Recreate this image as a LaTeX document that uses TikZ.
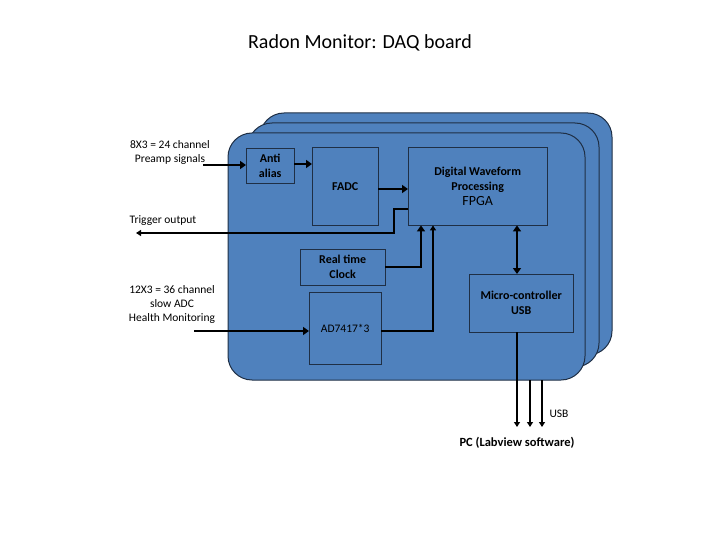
\documentclass[tikz,border=0pt]{standalone}
\usepackage{fontspec}
\setmainfont{Carlito}
\usetikzlibrary{arrows.meta}
\definecolor{board}{HTML}{4F81BD}
\definecolor{edge}{HTML}{1F2F45}
\tikzstyle{board style}=[fill=board, draw=edge, line width=1pt, rounded corners=24pt]
\tikzstyle{block}=[draw=edge, fill=board, anchor=north west, align=center, font=\fontsize{12}{15}\selectfont\bfseries]
\tikzstyle{label}=[align=center, font=\fontsize{11.5}{14}\selectfont]
\tikzstyle{bus}=[draw=black, line width=2.6pt, -{Triangle[length=6pt,width=8pt]}]
\tikzstyle{wire}=[draw=black, line width=1.3pt, -{Triangle[length=5pt,width=6pt]}]

\begin{document}
\begin{tikzpicture}[x=1pt, y=-1pt]
	\useasboundingbox (0,0) rectangle (720,540);
	% boards
	\draw [style=board style] (260,113) rectangle (612,355);
	\draw [style=board style] (248,123) rectangle (599,367);
	\draw [style=board style] (228,133) rectangle (585,380);
	% blocks
	\node [style=block, minimum width=48pt, minimum height=35pt] (alias) at (246,148) {Anti\\alias};
	\node [style=block, minimum width=66pt, minimum height=78pt] (fadc) at (312,147) {FADC};
	\node [style=block, minimum width=139pt, minimum height=78pt, inner sep=1pt] (fpga) at (408,147) {Digital Waveform\\Processing\\\mdseries\fontsize{14}{16}\selectfont FPGA};
	\node [style=block, minimum width=85pt, minimum height=36pt, inner sep=1pt] (clock) at (300,249) {Real time\\Clock};
	\node [style=block, minimum width=72pt, minimum height=72pt, font=\fontsize{11.5}{14}\selectfont] (adc) at (309,292) {AD7417*3};
	\node [style=block, minimum width=104pt, minimum height=58pt, inner sep=1pt] (mcu) at (469,274) {Micro-controller\\USB};
	% texts
	\node [font=\fontsize{20}{24}\selectfont] (title) at (360,43) {Radon Monitor: DAQ board};
	\node [style=label] (preamp) at (170,152) {8X3 = 24 channel\\Preamp signals};
	\node [style=label] (trigger) at (163,221) {Trigger output};
	\node [style=label] (health) at (172,304) {12X3 = 36 channel\\slow ADC\\Health Monitoring};
	\node [style=label] (usb) at (559,414) {USB};
	\node [style=label, font=\fontsize{12.5}{15}\selectfont\bfseries] (pc) at (517,443) {PC (Labview software)};
	\coordinate (in1) at (203,165);
	\coordinate (in2) at (194,331);
	\coordinate (trig) at (136,233);
	% connectors
	\draw [style=bus] (in1) -- (alias.west |- in1);
	\draw [style=bus] (alias.east |- 0,164) -- (fadc.west |- 0,164);
	\draw [style=bus] (fadc.east |- 0,189) -- (fpga.west |- 0,189);
	\draw [style=bus] (in2) -- (adc.west |- in2);
	\draw [style=wire] (fpga.west |- 0,209) -| (394,233) -- (trig);
	\draw [style=bus, line width=2.2pt] (clock.east |- 0,267) -| (fpga.south -| 421,0);
	\draw [style=wire] (adc.east |- 0,331) -| (fpga.south -| 433,0);
	\draw [style=bus, {Triangle[length=6pt,width=8pt]}-{Triangle[length=6pt,width=8pt]}] (fpga.south -| 517,0) -- (mcu.north -| 517,0);
	\coordinate (u1) at (517,427);
	\coordinate (u2) at (530,427);
	\coordinate (u3) at (542,427);
	\draw [style=wire] (mcu.south -| u1) -- (u1);
	\draw [style=wire] (530,380) -- (u2);
	\draw [style=wire] (542,380) -- (u3);
\end{tikzpicture}
\end{document}
